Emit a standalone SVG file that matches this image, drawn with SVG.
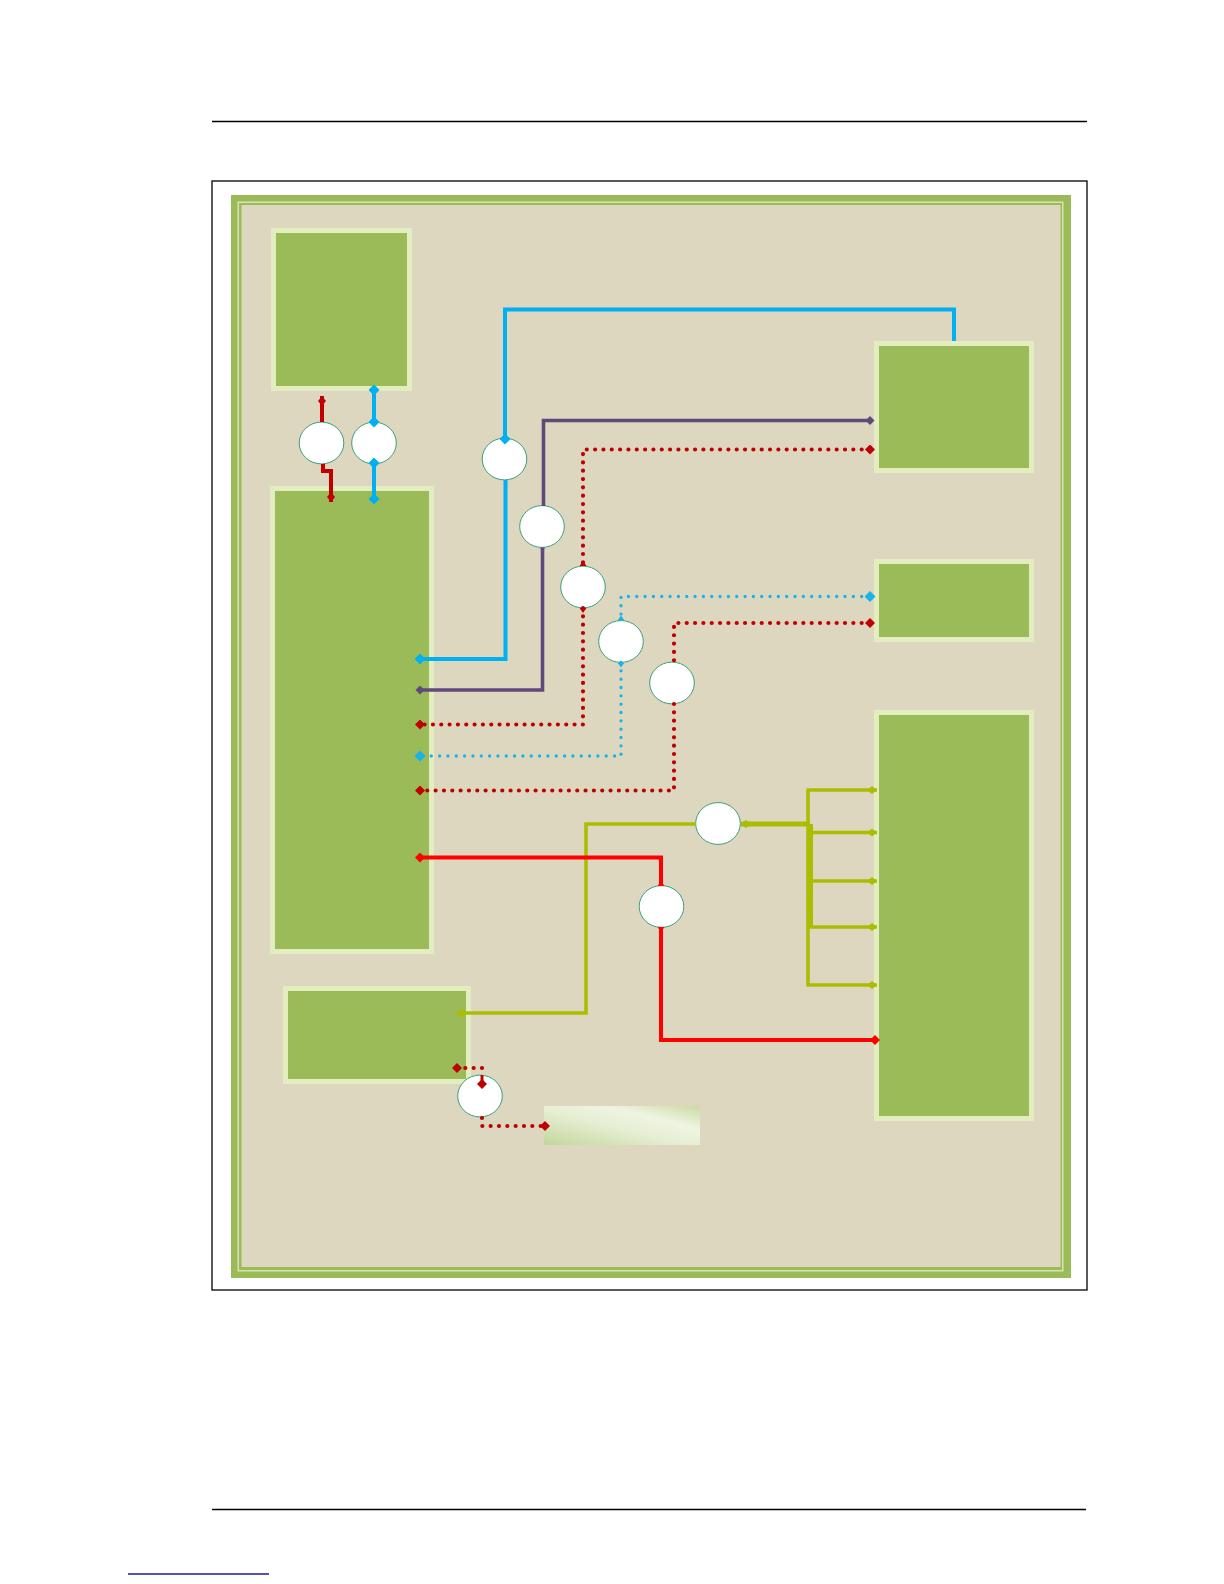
<svg xmlns="http://www.w3.org/2000/svg" width="1224" height="1584" viewBox="0 0 1224 1584">
<style>
.node{fill:#9bbb59;stroke:#e3edbf;stroke-width:5}
.hub{fill:#ffffff;stroke:#3aa07a;stroke-width:1}
.ln{fill:none;stroke-linejoin:miter}
.blue{stroke:#00b0f0;stroke-width:4}
.purple{stroke:#5f497a;stroke-width:3.6}
.dred{stroke:#c00000;stroke-width:4}
.red{stroke:#ff0000;stroke-width:4}
.yg{stroke:#aabd00;stroke-width:3.6}
.dot-red{stroke:#c00000;stroke-width:4.2;stroke-dasharray:0 8.33;stroke-linecap:round}
.dot-blue{stroke:#1ab2ea;stroke-width:3.3;stroke-dasharray:0 8.33;stroke-linecap:round}
</style>
<defs>
<marker id="dBlue" viewBox="0 0 10 10" refX="5" refY="5" markerWidth="11" markerHeight="11" markerUnits="userSpaceOnUse" orient="auto"><path d="M0,5 L5,0 L10,5 L5,10Z" fill="#00b0f0"/></marker>
<marker id="dPurple" viewBox="0 0 10 10" refX="5" refY="5" markerWidth="10" markerHeight="9" markerUnits="userSpaceOnUse" orient="auto"><path d="M0,5 L5,0 L10,5 L5,10Z" fill="#5f497a"/></marker>
<marker id="dDred" viewBox="0 0 10 10" refX="5" refY="5" markerWidth="11" markerHeight="10" markerUnits="userSpaceOnUse" orient="auto"><path d="M0,5 L5,0 L10,5 L5,10Z" fill="#c00000"/></marker>
<marker id="dRed" viewBox="0 0 10 10" refX="5" refY="5" markerWidth="11" markerHeight="10" markerUnits="userSpaceOnUse" orient="auto"><path d="M0,5 L5,0 L10,5 L5,10Z" fill="#ff0000"/></marker>
<marker id="dLblue" viewBox="0 0 10 10" refX="5" refY="5" markerWidth="11" markerHeight="11" markerUnits="userSpaceOnUse" orient="auto"><path d="M0,5 L5,0 L10,5 L5,10Z" fill="#1ab2ea"/></marker>
<marker id="tipDred" viewBox="0 0 10 8" refX="10" refY="4" markerWidth="10" markerHeight="8" markerUnits="userSpaceOnUse" orient="auto-start-reverse"><path d="M0,4 L5,0 L10,4 L5,8Z" fill="#c00000"/></marker>
<marker id="tipYg" viewBox="0 0 10 8" refX="10" refY="4" markerWidth="10" markerHeight="8" markerUnits="userSpaceOnUse" orient="auto-start-reverse"><path d="M0,4 L5,0 L10,4 L5,8Z" fill="#aabd00"/></marker>
<marker id="triDred" viewBox="0 0 5 7" refX="5" refY="3.5" markerWidth="5" markerHeight="7" markerUnits="userSpaceOnUse" orient="auto-start-reverse"><path d="M5,0 L5,7 L0,3.5Z" fill="#c00000"/></marker>
<marker id="triLblue" viewBox="0 0 5 7" refX="5" refY="3.5" markerWidth="5" markerHeight="7" markerUnits="userSpaceOnUse" orient="auto-start-reverse"><path d="M5,0 L5,7 L0,3.5Z" fill="#1ab2ea"/></marker>
<marker id="triRed" viewBox="0 0 5 7" refX="5" refY="3.5" markerWidth="5" markerHeight="7" markerUnits="userSpaceOnUse" orient="auto-start-reverse"><path d="M5,0 L5,7 L0,3.5Z" fill="#ff0000"/></marker>
<marker id="triPurple" viewBox="0 0 5 7" refX="5" refY="3.5" markerWidth="4" markerHeight="6" markerUnits="userSpaceOnUse" orient="auto-start-reverse"><path d="M5,0 L5,7 L0,3.5Z" fill="#5f497a"/></marker>
<linearGradient id="gPale" x1="0" y1="1" x2="1" y2="0">
<stop offset="0" stop-color="#c3d79a"/>
<stop offset="0.45" stop-color="#e6eed3"/>
<stop offset="0.7" stop-color="#eff4e2"/>
<stop offset="1" stop-color="#c9dba2"/>
</linearGradient>
</defs>

<rect x="0" y="0" width="1224" height="1584" fill="#ffffff"/>
<line x1="212" y1="121.5" x2="1087" y2="121.5" stroke="#000" stroke-width="1.3"/>
<line x1="212" y1="1509.5" x2="1086" y2="1509.5" stroke="#000" stroke-width="1.3"/>
<line x1="128" y1="1574" x2="269" y2="1574" stroke="#1a1a8c" stroke-width="1.3"/>

<g id="frame">
<rect x="212" y="181" width="875" height="1109" fill="#ffffff" stroke="#000" stroke-width="1.3"/>
<rect x="231" y="195" width="840" height="1083" fill="#9bbb59"/>
<rect x="237.5" y="201.5" width="826" height="1070" fill="#d8e2b6"/>
<rect x="239" y="203" width="823" height="1067" fill="#9bbb59"/>
<rect x="241.5" y="205" width="819" height="1062" fill="#ddd7bf"/>
</g>

<g id="box-a"><rect class="node" x="273.5" y="230.5" width="136" height="158"/></g>
<g id="box-b"><rect class="node" x="272.5" y="488.5" width="159" height="463"/></g>
<g id="box-c"><rect class="node" x="876.5" y="343.5" width="155" height="127"/></g>
<g id="box-d"><rect class="node" x="876.5" y="561.5" width="155" height="78"/></g>
<g id="box-e"><rect class="node" x="876.5" y="712.5" width="155" height="406"/></g>
<g id="box-f"><rect class="node" x="285.5" y="988.5" width="183" height="93"/></g>
<g id="box-g"><rect x="544" y="1106" width="156" height="39" fill="url(#gPale)"/></g>

<g id="hub-1"><ellipse class="hub" cx="321.5" cy="443" rx="22.3" ry="20.9"/></g>
<g id="hub-2"><ellipse class="hub" cx="374" cy="443" rx="22.3" ry="20.9"/></g>
<g id="hub-3"><ellipse class="hub" cx="504.5" cy="459" rx="22.3" ry="20.9"/></g>
<g id="hub-4"><ellipse class="hub" cx="542" cy="526.5" rx="22.3" ry="20.9"/></g>
<g id="hub-5"><ellipse class="hub" cx="583" cy="587" rx="22.3" ry="20.9"/></g>
<g id="hub-6"><ellipse class="hub" cx="621" cy="641.5" rx="22.3" ry="20.9"/></g>
<g id="hub-7"><ellipse class="hub" cx="672" cy="683" rx="22.3" ry="20.9"/></g>
<g id="hub-8"><ellipse class="hub" cx="718" cy="823.5" rx="22.3" ry="20.9"/></g>
<g id="hub-9"><ellipse class="hub" cx="661.5" cy="906.5" rx="22.3" ry="20.9"/></g>
<g id="hub-10"><ellipse class="hub" cx="480" cy="1096" rx="22.3" ry="20.9"/></g>

<g id="connectors">
<path class="ln dred" d="M322,422 V396" marker-end="url(#tipDred)"/>
<path class="ln dred" d="M323,464 V471 H331 V502" marker-end="url(#tipDred)"/>
<path class="ln blue" d="M374,390 V422" marker-start="url(#dBlue)" marker-end="url(#dBlue)"/>
<path class="ln blue" d="M374,463 V499" marker-start="url(#dBlue)" marker-end="url(#dBlue)"/>
<path class="ln blue" d="M954,341 V309.5 H505 V439" marker-end="url(#dBlue)"/>
<path class="ln blue" d="M505.5,480 V659 H420" marker-end="url(#dBlue)"/>
<path class="ln purple" d="M870,420.5 H543.5 V506" marker-start="url(#dPurple)"/>
<path class="ln purple" d="M542.5,547.5 V690 H420" marker-start="url(#triPurple)" marker-end="url(#dPurple)"/>
<path class="ln dot-red" d="M870,449.5 H583 V566" marker-start="url(#dDred)" marker-end="url(#triDred)"/>
<path class="ln dot-red" d="M583,608 V724.5 H420" marker-start="url(#triDred)" marker-end="url(#dDred)"/>
<path class="ln dot-blue" d="M870,596.5 H621 V620.5" marker-start="url(#dLblue)" marker-end="url(#triLblue)"/>
<path class="ln dot-blue" d="M621,662.5 V756 H420" marker-start="url(#triLblue)" marker-end="url(#dLblue)"/>
<path class="ln dot-red" d="M870,623 H674 V662" marker-start="url(#dDred)"/>
<path class="ln dot-red" d="M674,704 V790.5 H420" marker-end="url(#dDred)"/>
<path class="ln yg" d="M457,1013 H586 V824 H696" marker-start="url(#tipYg)"/>
<path class="ln yg" d="M741,824 H810" marker-start="url(#tipYg)" style="stroke-width:5"/>
<path class="ln yg" d="M808,790 V985"/>
<path class="ln yg" d="M810.5,824 V928" style="stroke-width:5"/>
<path class="ln yg" d="M806.5,790 H877" marker-end="url(#tipYg)"/>
<path class="ln yg" d="M810,832.5 H877" marker-end="url(#tipYg)"/>
<path class="ln yg" d="M810,881 H877" marker-end="url(#tipYg)"/>
<path class="ln yg" d="M810,927 H877" marker-end="url(#tipYg)"/>
<path class="ln yg" d="M806.5,985 H877" marker-end="url(#tipYg)"/>
<path class="ln red" d="M420,857.5 H661 V886" marker-start="url(#dRed)" marker-end="url(#triRed)"/>
<path class="ln red" d="M661,927 V1040 H875" marker-start="url(#triRed)" marker-end="url(#dRed)"/>
<path class="ln dot-red" d="M457,1068 H482" marker-start="url(#dDred)"/>
<path class="ln dred" d="M482,1075 V1084" style="stroke-width:3" marker-end="url(#dDred)"/>
<path class="ln dot-red" d="M482,1118 V1126 H545" marker-end="url(#dDred)"/>
</g>
</svg>
